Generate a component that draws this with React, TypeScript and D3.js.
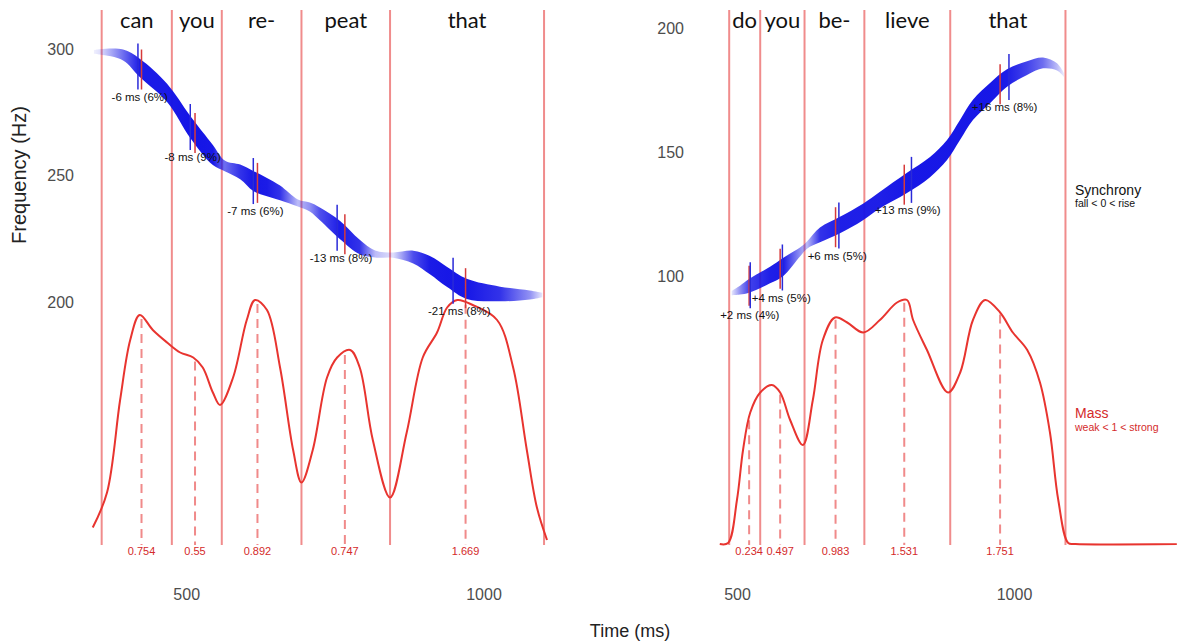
import React from 'react';
import * as d3 from 'd3';

// ---------- data ----------
const leftWords = ['can', 'you', 're-', 'peat', 'that'];
const leftBounds = [357, 475, 559, 693, 842, 1101];
const leftMassTimes = [424, 514, 619, 766, 969];
const leftMassLabels = ['0.754', '0.55', '0.892', '0.747', '1.669'];
const leftSyncMs = [-6, -8, -7, -13, -21];
const leftSyncPct = [6, 9, 6, 8, 8];
const leftF0Time = [344, 354, 393, 421, 467, 506, 544, 564, 590, 612, 635, 657, 687, 707, 724, 758, 791, 817, 847, 881, 909, 938, 971, 1027, 1077, 1098];
const leftF0Hz = [299.5, 299.5, 298.3, 293.2, 283.3, 269.8, 258.7, 254.4, 252, 248.4, 246, 243.7, 239.7, 238.1, 235.4, 229, 222.3, 219.5, 219.1, 218.3, 215.1, 210.4, 205.7, 203.7, 203.3, 203.3];
const leftF0Strength = [0.09, 0.18, 0.45, 0.82, 0.82, 1, 0.91, 0.45, 0.64, 0.91, 0.82, 0.64, 0.27, 0.36, 0.55, 0.82, 0.64, 0.27, 0.18, 0.55, 0.82, 0.91, 0.91, 0.64, 0.36, 0.14];
const leftMassCurveTime = [342, 366, 388, 405, 421, 443, 467, 489, 511, 527, 544, 556, 578, 601, 615, 635, 657, 679, 693, 712, 736, 753, 775, 791, 813, 842, 870, 897, 921, 938, 955, 981, 1022, 1049, 1072, 1089, 1106];
const leftMassCurveLevel = [0.07, 0.21, 0.58, 0.82, 0.92, 0.86, 0.81, 0.77, 0.75, 0.71, 0.61, 0.56, 0.67, 0.9, 0.98, 0.94, 0.71, 0.38, 0.25, 0.38, 0.67, 0.75, 0.78, 0.71, 0.42, 0.19, 0.45, 0.75, 0.85, 0.95, 0.98, 0.96, 0.9, 0.71, 0.38, 0.15, 0.02];

const rightWords = ['do', 'you', 'be-', 'lieve', 'that'];
const rightBounds = [485, 541, 621, 729, 884, 1092];
const rightMassTimes = [521, 577, 677, 801, 974];
const rightMassLabels = ['0.234', '0.497', '0.983', '1.531', '1.751'];
const rightSyncMs = [2, 4, 6, 13, 16];
const rightSyncPct = [4, 5, 5, 9, 8];
const rightF0Time = [489.5, 504.5, 520.8, 558.7, 582.1, 612.8, 625.5, 648.9, 685, 726.5, 757.2, 805.9, 847.5, 878.2, 901.6, 925, 955.8, 986.5, 1022.6, 1051.5, 1076.8, 1089.4];
const rightF0Hz = [93.7, 94.9, 96.6, 101, 104.2, 110.3, 113.1, 117.2, 121.2, 126.5, 131.3, 138.2, 144.6, 151.5, 159.6, 167.7, 174.5, 180.6, 184.6, 186.7, 185.1, 181.8];
const rightF0Strength = [0.14, 0.36, 0.59, 0.73, 0.82, 0.36, 0.27, 0.64, 0.73, 0.73, 0.73, 0.91, 0.91, 0.91, 0.91, 0.91, 0.91, 0.77, 0.59, 0.45, 0.27, 0.1];
const rightMassCurveTime = [468, 483, 499, 510, 523, 541, 562, 577, 595, 618, 636, 654, 676, 698, 727, 757, 788, 806, 817, 842, 880, 902, 925, 947, 974, 997, 1023, 1046, 1064, 1079, 1097, 1110, 1293];
const rightMassCurveLevel = [0.004, 0.008, 0.18, 0.38, 0.53, 0.61, 0.64, 0.61, 0.5, 0.4, 0.58, 0.82, 0.91, 0.89, 0.85, 0.9, 0.97, 0.98, 0.9, 0.78, 0.61, 0.69, 0.9, 0.98, 0.93, 0.85, 0.78, 0.65, 0.45, 0.18, 0.008, 0.004, 0.004];

const leftHzTicks = [200, 250, 300];
const rightHzTicks = [100, 150, 200];
const timeTicks = [500, 1000];

// ---------- styles ----------
const SANS = '"Liberation Sans", Arial, Helvetica, sans-serif';
const WORDFONT = 'Lato, "Open Sans", sans-serif';
const BOUND = '#f08c8c';
const MASS = '#e8342f';
const DASH = '#f08a8a';
const BLUE = '#1414e6';
const MASSTXT = '#d42a2a';

const TOP = 10;
const BASE = 545;

type PanelProps = {
  id: string;
  words: string[];
  bounds: number[];
  massTimes: number[];
  massLabels: string[];
  syncMs: number[];
  syncPct: number[];
  f0T: number[];
  f0Hz: number[];
  f0S: number[];
  mT: number[];
  mV: number[];
  hzTicks: number[];
  x: d3.ScaleLinear<number, number>;
  y: d3.ScaleLinear<number, number>;
  tickRight: number;
};

function Panel(p: PanelProps) {
  const { x, y } = p;
  const yMass = d3.scaleLinear([0, 1], [BASE, 295]);
  const massAt = d3.scaleLinear(p.mT, p.mV).clamp(true);
  const f0At = d3.scaleLinear(p.f0T, p.f0Hz).clamp(true);
  const halfW = d3.scaleLinear([0, 1], [0.8, 11]);
  const opac = d3.scaleLinear([0, 0.2, 0.4, 0.7, 1], [0.0, 0.15, 0.55, 0.95, 1]).clamp(true);

  const f0Data = p.f0T.map((t, i) => ({ t, f: p.f0Hz[i], s: p.f0S[i] }));
  const area = d3
    .area<{ t: number; f: number; s: number }>()
    .x((d) => x(d.t))
    .y0((d) => y(d.f) + halfW(d.s))
    .y1((d) => y(d.f) - halfW(d.s))
    .curve(d3.curveCatmullRom);

  const massData = p.mT.map((t, i) => ({ t, v: p.mV[i] }));
  const massLine = d3
    .line<{ t: number; v: number }>()
    .x((d) => x(d.t))
    .y((d) => yMass(d.v))
    .curve(d3.curveCatmullRom);

  const gx0 = x(p.f0T[0]);
  const gx1 = x(p.f0T[p.f0T.length - 1]);

  return (
    <g>
      <defs>
        <linearGradient id={`grad-${p.id}`} gradientUnits="userSpaceOnUse" x1={gx0} x2={gx1} y1={0} y2={0}>
          {f0Data.map((d, i) => (
            <stop key={i} offset={(x(d.t) - gx0) / (gx1 - gx0)} stopColor={BLUE} stopOpacity={opac(d.s)} />
          ))}
        </linearGradient>
      </defs>

      {/* y tick labels */}
      {p.hzTicks.map((h) => (
        <text key={h} x={p.tickRight} y={y(h)} textAnchor="end" dominantBaseline="middle" fontFamily={SANS} fontSize={16} fill="#4d4d4d">
          {h}
        </text>
      ))}
      {/* x tick labels */}
      {timeTicks.map((t) => (
        <text key={t} x={x(t)} y={596} textAnchor="middle" dominantBaseline="middle" fontFamily={SANS} fontSize={16} fill="#4d4d4d">
          {t}
        </text>
      ))}

      {/* word boundaries */}
      {p.bounds.map((b, i) => (
        <line key={i} x1={x(b)} x2={x(b)} y1={TOP} y2={BASE} stroke={BOUND} strokeWidth={2} />
      ))}
      {/* words */}
      {p.words.map((w, i) => (
        <text key={i} x={(x(p.bounds[i]) + x(p.bounds[i + 1])) / 2} y={28} textAnchor="middle" fontFamily={WORDFONT} fontSize={22} fill="#111">
          {w}
        </text>
      ))}

      {/* mass dashed lines */}
      {p.massTimes.map((t, i) => (
        <line key={i} x1={x(t)} x2={x(t)} y1={yMass(massAt(t)) + 2} y2={BASE} stroke={DASH} strokeWidth={2} strokeDasharray="9,6" />
      ))}
      {/* mass curve */}
      <path d={massLine(massData) || ''} fill="none" stroke={MASS} strokeWidth={2} />
      {/* mass labels */}
      {p.massTimes.map((t, i) => (
        <text key={i} x={x(t)} y={552} textAnchor="middle" dominantBaseline="middle" fontFamily={SANS} fontSize={11} fill={MASSTXT}>
          {p.massLabels[i]}
        </text>
      ))}

      {/* F0 ribbon */}
      <path d={area(f0Data) || ''} fill={`url(#grad-${p.id})`} />

      {/* synchrony markers */}
      {p.massTimes.map((t, i) => {
        const tb = t + p.syncMs[i];
        const cb = y(f0At(tb));
        const cr = y(f0At(t));
        const ms = p.syncMs[i];
        const label = `${ms > 0 ? '+' : ''}${ms} ms (${p.syncPct[i]}%)`;
        return (
          <g key={i}>
            <line x1={x(t)} x2={x(t)} y1={cr - 20} y2={cr + 20} stroke="#d63a3a" strokeWidth={1.5} />
            <line x1={x(tb)} x2={x(tb)} y1={cb - 23} y2={cb + 23} stroke="#2a2ad8" strokeWidth={1.5} />
            <text x={(x(t) + x(tb)) / 2} y={cb + 31} textAnchor="middle" dominantBaseline="middle" fontFamily={SANS} fontSize={11.5} fill="#111">
              {label}
            </text>
          </g>
        );
      })}
    </g>
  );
}

export default function App() {
  const xL = d3.scaleLinear([500, 1000], [186.7, 484]);
  const yL = d3.scaleLinear([200, 300], [303.3, 50.7]);
  const xR = d3.scaleLinear([500, 1000], [737.5, 1014.5]);
  const yR = d3.scaleLinear([100, 200], [277.5, 30]);

  return (
    <svg width={1177} height={643} style={{ position: 'absolute', left: 0, top: 0, background: '#fff' }}>
      <rect width={1177} height={643} fill="#fff" />
      <Panel
        id="L"
        words={leftWords}
        bounds={leftBounds}
        massTimes={leftMassTimes}
        massLabels={leftMassLabels}
        syncMs={leftSyncMs}
        syncPct={leftSyncPct}
        f0T={leftF0Time}
        f0Hz={leftF0Hz}
        f0S={leftF0Strength}
        mT={leftMassCurveTime}
        mV={leftMassCurveLevel}
        hzTicks={leftHzTicks}
        x={xL}
        y={yL}
        tickRight={74}
      />
      <Panel
        id="R"
        words={rightWords}
        bounds={rightBounds}
        massTimes={rightMassTimes}
        massLabels={rightMassLabels}
        syncMs={rightSyncMs}
        syncPct={rightSyncPct}
        f0T={rightF0Time}
        f0Hz={rightF0Hz}
        f0S={rightF0Strength}
        mT={rightMassCurveTime}
        mV={rightMassCurveLevel}
        hzTicks={rightHzTicks}
        x={xR}
        y={yR}
        tickRight={684}
      />

      {/* axis titles */}
      <text x={630} y={632} textAnchor="middle" dominantBaseline="middle" fontFamily={SANS} fontSize={18} fill="#222">
        Time (ms)
      </text>
      <text transform="translate(21,175) rotate(-90)" textAnchor="middle" dominantBaseline="middle" fontFamily={SANS} fontSize={20} fill="#222">
        Frequency (Hz)
      </text>

      {/* legend */}
      <text x={1075} y={195} fontFamily={SANS} fontSize={14} fill="#111">Synchrony</text>
      <text x={1075} y={207} fontFamily={SANS} fontSize={10.5} fill="#111">fall &lt; 0 &lt; rise</text>
      <text x={1075} y={418} fontFamily={SANS} fontSize={14} fill={MASSTXT}>Mass</text>
      <text x={1075} y={431} fontFamily={SANS} fontSize={10.5} fill={MASSTXT}>weak &lt; 1 &lt; strong</text>
    </svg>
  );
}
